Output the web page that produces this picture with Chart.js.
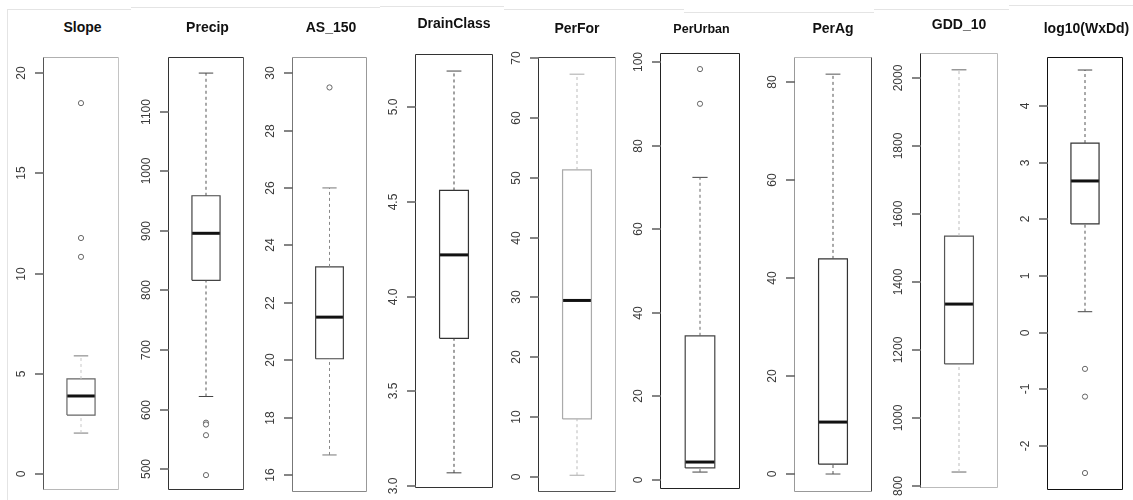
<!DOCTYPE html>
<html>
<head>
<meta charset="utf-8">
<script src="https://cdn.jsdelivr.net/npm/chart.js@4.4.1/dist/chart.umd.min.js"></script>
<style>
  html, body { margin: 0; padding: 0; background: #fff; }
  body { width: 1133px; height: 500px; position: relative; overflow: hidden; font-family: "Liberation Sans", Arial, sans-serif; }
  .panel { position: absolute; }
  .title { position: absolute; font-weight: bold; color: #111; white-space: nowrap; transform: translateX(-50%); line-height: 16px; }
  .sep { position: absolute; background: #e4e4e4; }
</style>
</head>
<body>
<script>
// ---------------- DATA ----------------
const variables = ['Slope', 'Precip', 'AS_150', 'DrainClass', 'PerFor', 'PerUrban', 'PerAg', 'GDD_10', 'log10(WxDd)'];
const whiskerLow  = [2.04, 622, 16.7, 3.07, 0.3, 1.9, 0.0, 841, 0.37];
const quartile1   = [2.94, 817, 20.05, 3.78, 9.7, 2.9, 2.0, 1159, 1.92];
const medians     = [3.89, 896, 21.5, 4.22, 29.5, 4.3, 10.6, 1335, 2.68];
const quartile3   = [4.74, 959, 23.25, 4.56, 51.3, 34.5, 43.9, 1535, 3.35];
const whiskerHigh = [5.89, 1165, 26.0, 5.19, 67.3, 72.4, 81.6, 2024, 4.64];
const outliers = [
  [18.5, 11.77, 10.83],
  [578, 575, 557, 490],
  [29.5],
  [],
  [],
  [98.3, 90.0],
  [],
  [],
  [-0.64, -1.13, -2.48]
];
const tickValues = [
  [0, 5, 10, 15, 20],
  [500, 600, 700, 800, 900, 1000, 1100],
  [16, 18, 20, 22, 24, 26, 28, 30],
  [3.0, 3.5, 4.0, 4.5, 5.0],
  [0, 10, 20, 30, 40, 50, 60, 70],
  [0, 20, 40, 60, 80, 100],
  [0, 20, 40, 60, 80],
  [800, 1000, 1200, 1400, 1600, 1800, 2000],
  [-2, -1, 0, 1, 2, 3, 4]
];
const tickLabels = [
  ['0', '5', '10', '15', '20'],
  ['500', '600', '700', '800', '900', '1000', '1100'],
  ['16', '18', '20', '22', '24', '26', '28', '30'],
  ['3.0', '3.5', '4.0', '4.5', '5.0'],
  ['0', '10', '20', '30', '40', '50', '60', '70'],
  ['0', '20', '40', '60', '80', '100'],
  ['0', '20', '40', '60', '80'],
  ['800', '1000', '1200', '1400', '1600', '1800', '2000'],
  ['-2', '-1', '0', '1', '2', '3', '4']
];
const axisMin = [-0.8, 465, 15.41, 2.99, -2.5, -2.15, -3.67, 794, -2.78];
const axisMax = [20.8, 1192, 30.56, 5.28, 70.17, 102.15, 85.1, 2073.5, 4.87];

// ---------------- LAYOUT & STYLE ----------------
// frame: [left, top, right, bottom] in page pixels
const frames = [
  [43, 57, 122, 490], [168, 57, 247, 490], [292, 57, 370, 492],
  [415, 54, 493, 488], [538, 57, 616, 492], [660, 53, 743, 489],
  [794, 57, 872, 492], [920, 53, 998, 488], [1047, 57, 1126, 490]
];
const titleY = [27, 27, 27, 23, 28, 29, 28, 24, 28];
const titleSize = [14, 14, 14, 14, 14, 12.5, 14, 14, 14];
// frame side colours: top, right, bottom, left
const frameColors = [
  ['#b0b0b0', '#c4c4c4', '#b8b8b8', '#555'],
  ['#333', '#555', '#333', '#333'],
  ['#999', '#999', '#888', '#777'],
  ['#333', '#333', '#333', '#333'],
  ['#444', '#bbb', '#555', '#333'],
  ['#222', '#222', '#222', '#222'],
  ['#bbb', '#444', '#999', '#999'],
  ['#bbb', '#bbb', '#bbb', '#222'],
  ['#111', '#111', '#111', '#111']
];
const boxColors     = ['#666', '#444', '#444', '#333', '#aaa', '#444', '#333', '#555', '#333'];
const whiskerColors = ['#c8c8c8', '#555', '#888', '#444', '#bbb', '#666', '#555', '#bbb', '#555'];
const capColors     = ['#777', '#444', '#777', '#444', '#aaa', '#444', '#555', '#666', '#444'];
const AXIS_W = 45, PAD = 2, VPAD = 20, BOX_HALF = 0.37, CAP_HALF = 0.19, TICK_LEN = 8;

// faint separator artefacts
[[7, 9, 1, 491], [7, 9, 124, 1], [131, 7, 249, 1], [380, 6, 124, 1], [504, 9, 180, 1], [684, 12, 190, 1], [874, 9, 135, 1], [1009, 5, 130, 1]].forEach(r => {
  const d = document.createElement('div');
  d.className = 'sep';
  d.style.left = r[0] + 'px'; d.style.top = r[1] + 'px';
  d.style.width = r[2] + 'px'; d.style.height = r[3] + 'px';
  document.body.appendChild(d);
});

const framePlugin = {
  id: 'rframe',
  afterDraw(chart) {
    const i = chart.options.plugins.rframe.index;
    const { left, top, right, bottom } = chart.chartArea;
    const c = frameColors[i];
    const ctx = chart.ctx;
    ctx.save();
    ctx.setLineDash([]);
    ctx.lineCap = 'butt';
    const L = left + 0.5, R = right - 0.5, T = top + 0.5, B = bottom - 0.5;
    const seg = (x1, y1, x2, y2, col, lw) => {
      ctx.lineWidth = lw || 1; ctx.strokeStyle = col;
      ctx.beginPath(); ctx.moveTo(x1, y1); ctx.lineTo(x2, y2); ctx.stroke();
    };
    seg(L, T, R, T, c[0]);
    seg(R, T, R, B, c[1]);
    seg(L, B, R, B, c[2]);
    seg(L, T, L, B, c[3]);
    // y-axis tick marks and rotated tick labels (R style, parallel to the axis)
    const ys = chart.scales.y;
    tickValues[i].forEach((v) => {
      const y = Math.round(ys.getPixelForValue(v));
      seg(left - TICK_LEN, y, left + 1, y, '#666', 1.6);
    });
    ctx.fillStyle = '#3a3a3a';
    ctx.font = '12px "Liberation Sans", Arial, sans-serif';
    ctx.textAlign = 'center';
    ctx.textBaseline = 'middle';
    tickValues[i].forEach((v, j) => {
      const y = Math.round(ys.getPixelForValue(v));
      ctx.save();
      ctx.translate(left - 21, y);
      ctx.rotate(-Math.PI / 2);
      ctx.fillText(tickLabels[i][j], 0, 0);
      ctx.restore();
    });
    ctx.restore();
  }
};

variables.forEach((name, i) => {
  const [fl, ft, fr, fb] = frames[i];
  const wrap = document.createElement('div');
  wrap.className = 'panel';
  const w = AXIS_W + (fr - fl) + PAD;
  const h = (fb - ft) + 2 * VPAD;
  wrap.style.left = (fl - AXIS_W) + 'px';
  wrap.style.top = (ft - VPAD) + 'px';
  wrap.style.width = w + 'px';
  wrap.style.height = h + 'px';
  const cv = document.createElement('canvas');
  cv.width = w; cv.height = h;
  cv.style.width = w + 'px'; cv.style.height = h + 'px';
  wrap.appendChild(cv);
  document.body.appendChild(wrap);

  const t = document.createElement('div');
  t.className = 'title';
  t.textContent = name;
  t.style.left = ((fl + fr) / 2) + 'px';
  t.style.top = (titleY[i] - 8) + 'px';
  t.style.fontSize = titleSize[i] + 'px';
  document.body.appendChild(t);

  const lo = whiskerLow[i], q1 = quartile1[i], md = medians[i], q3 = quartile3[i], hi = whiskerHigh[i];
  const lineDs = (data, color, width, dash) => ({
    type: 'line', data, borderColor: color, borderWidth: width, borderDash: dash || [],
    pointRadius: 0, fill: false, tension: 0, borderCapStyle: 'butt', borderJoinStyle: 'miter', showLine: true
  });

  new Chart(cv, {
    type: 'scatter',
    data: {
      datasets: [
        lineDs([{ x: 0, y: q3 }, { x: 0, y: hi }], whiskerColors[i], 1, [3, 3]),
        lineDs([{ x: 0, y: lo }, { x: 0, y: q1 }], whiskerColors[i], 1, [3, 3]),
        lineDs([{ x: -CAP_HALF, y: hi }, { x: CAP_HALF, y: hi }], capColors[i], 1),
        lineDs([{ x: -CAP_HALF, y: lo }, { x: CAP_HALF, y: lo }], capColors[i], 1),
        lineDs([{ x: -BOX_HALF, y: q1 }, { x: BOX_HALF, y: q1 }, { x: BOX_HALF, y: q3 }, { x: -BOX_HALF, y: q3 }, { x: -BOX_HALF, y: q1 }], boxColors[i], 1.2),
        lineDs([{ x: -BOX_HALF, y: md }, { x: BOX_HALF, y: md }], '#111', 3),
        {
          type: 'scatter',
          data: outliers[i].map(v => ({ x: 0, y: v })),
          pointRadius: 2.6, pointStyle: 'circle', borderColor: '#666', borderWidth: 1,
          backgroundColor: '#fff', showLine: false
        }
      ]
    },
    options: {
      responsive: false,
      animation: false,
      devicePixelRatio: 1,
      layout: { padding: { left: 0, right: PAD, top: VPAD, bottom: VPAD } },
      plugins: { legend: { display: false }, tooltip: { enabled: false }, rframe: { index: i } },
      scales: {
        x: { type: 'linear', min: -1, max: 1, display: false },
        y: {
          type: 'linear', position: 'left', min: axisMin[i], max: axisMax[i], bounds: 'data',
          afterBuildTicks: (scale) => { scale.ticks = tickValues[i].map(v => ({ value: v })); },
          afterFit: (scale) => { scale.width = AXIS_W; },
          ticks: { display: false },
          grid: { display: false },
          border: { display: false }
        }
      }
    },
    plugins: [framePlugin]
  });
});
</script>
</body>
</html>
